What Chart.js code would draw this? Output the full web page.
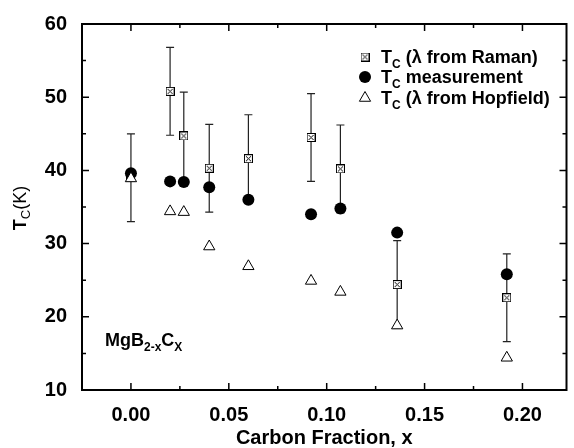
<!DOCTYPE html>
<html>
<head>
<meta charset="utf-8">
<script src="https://cdn.jsdelivr.net/npm/chart.js@4.4.0/dist/chart.umd.min.js"></script>
<style>
  html, body { margin: 0; padding: 0; background: #fff; }
  #wrap { width: 574px; height: 448px; }
</style>
</head>
<body>
<div id="wrap"><canvas id="tcChart" width="574" height="448"></canvas></div>
<script>
// carbon fraction x and Tc values
const carbonX = [0, 0.02, 0.027, 0.04, 0.06, 0.092, 0.107, 0.136, 0.192];
const tcRaman = [39.0, 50.8, 44.7, 40.3, 41.6, 44.5, 40.2, 24.4, 22.6];
const ramanErr = [6, 6, 6, 6, 6, 6, 6, 6, 6];
const tcMeasured = [39.6, 38.5, 38.4, 37.7, 36.0, 34.0, 34.8, 31.5, 25.8];
const tcHopfield = [38.9, 34.4, 34.3, 29.6, 26.9, 24.9, 23.4, 18.8, 14.4];

const xTicks = [0, 0.05, 0.10, 0.15, 0.20];
const xMinorTicks = [0.025, 0.075, 0.125, 0.175];
const yTicks = [10, 20, 30, 40, 50, 60];
const yMinorTicks = [15, 25, 35, 45, 55];

const FONT = "'Liberation Sans', Arial, Helvetica, sans-serif";

// crossed box marker for the Raman points
const ramanMark = document.createElement('canvas');
ramanMark.width = 9;
ramanMark.height = 9;
(function () {
    const m = ramanMark.getContext('2d');
    m.fillStyle = '#fff';
    m.fillRect(0, 0, 9, 9);
    m.strokeStyle = '#000';
    m.lineWidth = 1;
    m.strokeRect(0.5, 0.5, 8, 8);
    m.beginPath();
    m.moveTo(2, 2); m.lineTo(7, 7);
    m.moveTo(7, 2); m.lineTo(2, 7);
    m.stroke();
})();

function points(ys) {
    return carbonX.map((v, i) => ({ x: v, y: ys[i] }));
}

// text with subscript pieces
function richWidth(ctx, parts) {
    let w = 0;
    parts.forEach(p => { ctx.font = p.font; w += ctx.measureText(p.text).width; });
    return w;
}
function drawRich(ctx, x, y, parts) {
    parts.forEach(p => {
        ctx.font = p.font;
        ctx.fillText(p.text, x, y + (p.dy || 0));
        x += ctx.measureText(p.text).width;
    });
}

const errorBars = {
    id: 'errorBars',
    beforeDatasetsDraw(chart) {
        const { ctx, scales: { x, y } } = chart;
        ctx.save();
        ctx.strokeStyle = '#222';
        ctx.lineWidth = 1.2;
        carbonX.forEach((cx, i) => {
            const px = x.getPixelForValue(cx);
            const top = y.getPixelForValue(tcRaman[i] + ramanErr[i]);
            const bot = y.getPixelForValue(tcRaman[i] - ramanErr[i]);
            ctx.beginPath();
            ctx.moveTo(px, top); ctx.lineTo(px, bot);
            ctx.moveTo(px - 4, top); ctx.lineTo(px + 4, top);
            ctx.moveTo(px - 4, bot); ctx.lineTo(px + 4, bot);
            ctx.stroke();
        });
        ctx.restore();
    }
};

// box frame with inward ticks on all four sides
const frame = {
    id: 'frame',
    beforeDatasetsDraw(chart) {
        const { ctx, chartArea: a, scales: { x, y } } = chart;
        ctx.save();
        ctx.strokeStyle = '#000';
        ctx.lineWidth = 1.5;
        const tick = (vals, len) => {
            vals.forEach(v => {
                const px = x.getPixelForValue(v);
                ctx.beginPath();
                ctx.moveTo(px, a.bottom); ctx.lineTo(px, a.bottom - len);
                ctx.moveTo(px, a.top); ctx.lineTo(px, a.top + len);
                ctx.stroke();
            });
        };
        const ytick = (vals, len) => {
            vals.forEach(v => {
                const py = y.getPixelForValue(v);
                ctx.beginPath();
                ctx.moveTo(a.left, py); ctx.lineTo(a.left + len, py);
                ctx.moveTo(a.right, py); ctx.lineTo(a.right - len, py);
                ctx.stroke();
            });
        };
        tick(xTicks, 7);
        tick(xMinorTicks, 4);
        ytick(yTicks, 7);
        ytick(yMinorTicks, 4);
        ctx.lineWidth = 2;
        ctx.strokeRect(a.left, a.top, a.right - a.left, a.bottom - a.top);
        ctx.restore();
    }
};

const labels = {
    id: 'labels',
    afterDraw(chart) {
        const { ctx } = chart;
        ctx.save();
        ctx.fillStyle = '#000';
        ctx.textBaseline = 'alphabetic';
        ctx.textAlign = 'left';

        // y axis title, rotated
        const yTitle = [
            { text: 'T', font: 'bold 18px ' + FONT },
            { text: 'C', font: '13px ' + FONT, dy: 4 },
            { text: '(K)', font: '18px ' + FONT }
        ];
        ctx.save();
        ctx.translate(26, 208);
        ctx.rotate(-Math.PI / 2);
        drawRich(ctx, -richWidth(ctx, yTitle) / 2, 0, yTitle);
        ctx.restore();

        // compound label
        drawRich(ctx, 105, 346, [
            { text: 'MgB', font: 'bold 18px ' + FONT },
            { text: '2-x', font: 'bold 12px ' + FONT, dy: 5 },
            { text: 'C', font: 'bold 18px ' + FONT },
            { text: 'X', font: 'bold 12px ' + FONT, dy: 5 }
        ]);

        // legend
        const lx = 365, tx = 381;
        const rows = [57, 77, 98];
        ctx.drawImage(ramanMark, lx - 4.5, rows[0] - 4.5);
        ctx.beginPath();
        ctx.arc(lx, rows[1], 6, 0, Math.PI * 2);
        ctx.fill();
        ctx.beginPath();
        ctx.strokeStyle = '#000';
        ctx.lineWidth = 1;
        ctx.moveTo(lx, rows[2] - 6.5);
        ctx.lineTo(lx + 5.6, rows[2] + 3.25);
        ctx.lineTo(lx - 5.6, rows[2] + 3.25);
        ctx.closePath();
        ctx.stroke();
        const legendText = [' (\u03BB from Raman)', ' measurement', ' (\u03BB from Hopfield)'];
        legendText.forEach((t, i) => {
            drawRich(ctx, tx, rows[i] + 6, [
                { text: 'T', font: 'bold 18px ' + FONT },
                { text: 'C', font: 'bold 12px ' + FONT, dy: 5 },
                { text: t, font: 'bold 18px ' + FONT }
            ]);
        });
        ctx.restore();
    }
};

const ctx = document.getElementById('tcChart').getContext('2d');
const tcChart = new Chart(ctx, {
    type: 'scatter',
    data: {
        datasets: [
            {
                label: 'Tc (lambda from Hopfield)',
                data: points(tcHopfield),
                pointStyle: 'triangle',
                pointRadius: 6.5,
                backgroundColor: '#fff',
                borderColor: '#000',
                borderWidth: 1,
                order: 0
            },
            {
                label: 'Tc measurement',
                data: points(tcMeasured),
                pointStyle: 'circle',
                pointRadius: 6,
                backgroundColor: '#000',
                borderColor: '#000',
                borderWidth: 0,
                order: 1
            },
            {
                label: 'Tc (lambda from Raman)',
                data: points(tcRaman),
                pointStyle: ramanMark,
                order: 2
            }
        ]
    },
    options: {
        responsive: false,
        animation: false,
        layout: { padding: { top: 24, right: 1, left: 0, bottom: 0 } },
        plugins: {
            legend: { display: false },
            tooltip: { enabled: false }
        },
        scales: {
            x: {
                type: 'linear',
                min: -0.025,
                max: 0.2225,
                afterFit(s) { s.height = 58; },
                afterBuildTicks(s) { s.ticks = xTicks.map(v => ({ value: v })); },
                grid: { display: false },
                border: { display: false },
                ticks: {
                    padding: 5,
                    color: '#000',
                    font: { family: FONT, size: 20, weight: 'bold' },
                    callback: v => v.toFixed(2)
                },
                title: {
                    display: true,
                    text: 'Carbon Fraction, x',
                    color: '#000',
                    font: { family: FONT, size: 20, weight: 'bold' },
                    padding: { top: 0, bottom: -2 }
                }
            },
            y: {
                min: 10,
                max: 60,
                afterFit(s) { s.width = 82; },
                afterBuildTicks(s) { s.ticks = yTicks.map(v => ({ value: v })); },
                grid: { display: false },
                border: { display: false },
                ticks: {
                    padding: 7,
                    color: '#000',
                    font: { family: FONT, size: 20, weight: 'bold' }
                }
            }
        }
    },
    plugins: [frame, errorBars, labels]
});
</script>
</body>
</html>
